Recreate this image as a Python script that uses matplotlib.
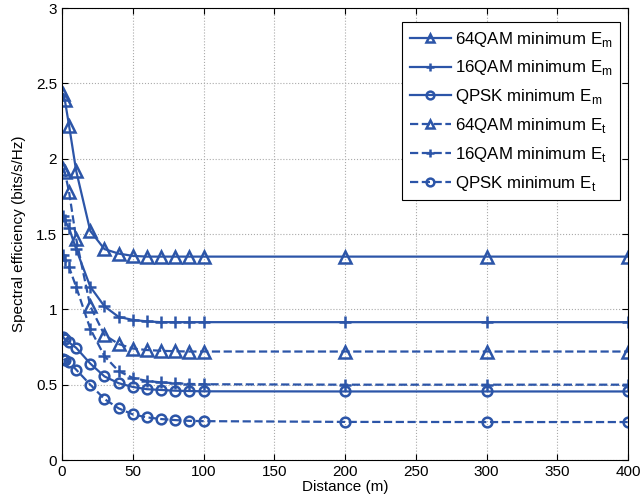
import numpy as np
import matplotlib
matplotlib.use('Agg')
import matplotlib.pyplot as plt

plt.rcParams['font.family'] = ['Liberation Sans', 'DejaVu Sans']
plt.rcParams['mathtext.fontset'] = 'custom'
plt.rcParams['mathtext.rm'] = 'Liberation Sans'

# distance (m)
distance = [1, 2, 5, 10, 20, 30, 40, 50, 60, 70, 80, 90, 100, 200, 300, 400]

# minimum E_m
qam64_em = [2.43, 2.39, 2.22, 1.92, 1.52, 1.40, 1.37, 1.355, 1.35, 1.35, 1.35, 1.35, 1.35, 1.35, 1.35, 1.35]
qam16_em = [1.62, 1.59, 1.54, 1.40, 1.15, 1.02, 0.95, 0.93, 0.92, 0.915, 0.915, 0.915, 0.915, 0.915, 0.915, 0.915]
qpsk_em = [0.815, 0.80, 0.78, 0.745, 0.64, 0.555, 0.51, 0.485, 0.47, 0.465, 0.46, 0.458, 0.456, 0.455, 0.455, 0.455]

# minimum E_t
qam64_et = [1.93, 1.91, 1.78, 1.47, 1.02, 0.83, 0.77, 0.74, 0.73, 0.725, 0.722, 0.72, 0.72, 0.72, 0.72, 0.72]
qam16_et = [1.36, 1.33, 1.28, 1.15, 0.87, 0.69, 0.59, 0.545, 0.525, 0.515, 0.51, 0.505, 0.503, 0.50, 0.50, 0.50]
qpsk_et = [0.67, 0.665, 0.65, 0.60, 0.50, 0.405, 0.343, 0.303, 0.283, 0.272, 0.265, 0.26, 0.258, 0.253, 0.252, 0.252]

blue = '#2c55a8'

fig = plt.figure(figsize=(6.41, 5.01), dpi=100)
ax = fig.add_axes([0.0967, 0.0818, 0.8833, 0.9022])

kw = dict(color=blue, lw=1.6, mew=1.8, mfc='none')
ax.plot(distance, qam64_em, '-^', ms=8, label=r'64QAM minimum E$_\mathrm{m}$', **kw)
ax.plot(distance, qam16_em, '-+', ms=8, label=r'16QAM minimum E$_\mathrm{m}$', **kw)
ax.plot(distance, qpsk_em, '-o', ms=7, label=r'QPSK minimum E$_\mathrm{m}$', **kw)
ax.plot(distance, qam64_et, '--^', ms=8, label=r'64QAM minimum E$_\mathrm{t}$', **kw)
ax.plot(distance, qam16_et, '--+', ms=8, label=r'16QAM minimum E$_\mathrm{t}$', **kw)
ax.plot(distance, qpsk_et, '--o', ms=7, label=r'QPSK minimum E$_\mathrm{t}$', **kw)

ax.set_xlim(0, 400)
ax.set_ylim(0, 3)
ax.set_xticks(np.arange(0, 401, 50))
ax.set_yticks(np.arange(0, 3.01, 0.5))
ax.set_yticklabels(['0', '0.5', '1', '1.5', '2', '2.5', '3'])
ax.tick_params(direction='in', labelsize=11, top=True, right=True, length=4)
ax.grid(True, linestyle=':', color='#aaaaaa', lw=0.8)

ax.set_xlabel('Distance (m)', fontsize=11, labelpad=1)
ax.set_ylabel('Spectral efficiency (bits/s/Hz)', fontsize=11, labelpad=7)

leg = ax.legend(loc='upper right', bbox_to_anchor=(0.986, 0.969), borderaxespad=0,
                fontsize=12.2, fancybox=False, framealpha=1,
                edgecolor='black', handlelength=2.4,
                labelspacing=0.58, handletextpad=0.25, markerscale=0.8,
                borderpad=0.45)
leg.get_frame().set_linewidth(0.8)

plt.savefig('out.png', dpi=100)
